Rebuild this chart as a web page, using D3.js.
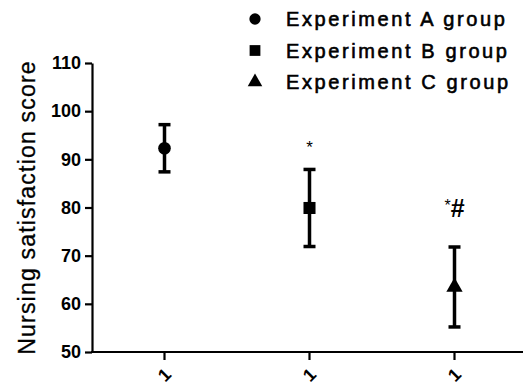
<!DOCTYPE html>
<html>
<head>
<meta charset="utf-8">
<script src="https://cdn.jsdelivr.net/npm/d3@7"></script>
<style>
  body { margin: 0; background: #fff; }
  svg text { font-family: "Liberation Sans", Arial, sans-serif; fill: #000; }
</style>
</head>
<body>
<div id="chart"></div>
<script>
// groups and values
let groups = ['Experiment A group', 'Experiment B group', 'Experiment C group']
let tickLabels = ['1', '1', '1']
let means = [92.3, 79.9, 63.5]
let errors = [4.9, 8.0, 8.3]
let marks = ['', '*', '*#']
let yTicks = [50, 60, 70, 80, 90, 100, 110]

let width = 523, height = 385
let margin = {top: 63, right: -4, bottom: 33, left: 92}

let svg = d3.select('#chart')
  .append('svg')
    .attr('width', width)
    .attr('height', height)

let x = d3.scaleBand()
  .domain(groups)
  .range([margin.left, width - margin.right])

let y = d3.scaleLinear()
  .domain([50, 110])
  .range([height - margin.bottom, margin.top])

let shapes = [d3.symbolCircle, d3.symbolSquare, d3.symbolTriangle]
let sizes = [125, 145, 115]

// y axis
let yAxis = svg.append('g')
  .attr('transform', 'translate(' + margin.left + ',0)')
  .call(d3.axisLeft(y).tickValues(yTicks).tickSize(7).tickPadding(4).tickSizeOuter(0))
yAxis.selectAll('path, line').attr('stroke', '#000').attr('stroke-width', 2.2)
yAxis.selectAll('text')
  .attr('font-size', 18)
  .attr('font-weight', 'bold')
  .attr('font-family', '"Liberation Sans", Arial, sans-serif')
  .attr('fill', '#000')

// x axis
let xAxis = svg.append('g')
  .attr('transform', 'translate(0,' + y(50) + ')')
  .call(d3.axisBottom(x).tickSize(8).tickSizeOuter(0).tickFormat(function(d, i){ return tickLabels[i] }))
xAxis.select('path').attr('stroke', '#000').attr('stroke-width', 2.2).attr('d', 'M' + (margin.left - 1) + ',0H' + width)
xAxis.selectAll('line').attr('stroke', '#000').attr('stroke-width', 2.2)
xAxis.selectAll('text')
  .attr('font-size', 18)
  .attr('font-weight', 'bold')
  .attr('font-family', '"Liberation Sans", Arial, sans-serif')
  .attr('fill', '#000')
  .attr('y', 0)
  .attr('dy', 0)
  .attr('text-anchor', 'middle')
  .attr('dominant-baseline', 'central')
  .attr('transform', 'translate(0,23) rotate(-45)')

// y axis title
svg.append('text')
  .attr('transform', 'translate(27,' + (y(50) + y(110)) / 2 + ') rotate(-90)')
  .attr('text-anchor', 'middle')
  .attr('dominant-baseline', 'central')
  .attr('font-size', 23)
  .attr('letter-spacing', 1.2)
  .attr('stroke', '#000')
  .attr('stroke-width', 0.3)
  .text('Nursing satisfaction score')

// error bars
let cx = function(d){ return x(d) + x.bandwidth() / 2 }
let bars = svg.append('g')
groups.forEach(function(g, i){
  let top = y(means[i] + errors[i]), bot = y(means[i] - errors[i])
  bars.append('line')
    .attr('x1', cx(g)).attr('x2', cx(g))
    .attr('y1', top).attr('y2', bot)
    .attr('stroke', '#000').attr('stroke-width', 3.5)
  ;[top, bot].forEach(function(v){
    bars.append('line')
      .attr('x1', cx(g) - 6).attr('x2', cx(g) + 6)
      .attr('y1', v).attr('y2', v)
      .attr('stroke', '#000').attr('stroke-width', 3.5)
  })
  bars.append('path')
    .attr('d', d3.symbol().type(shapes[i]).size(sizes[i])())
    .attr('transform', 'translate(' + cx(g) + ',' + y(means[i]) + ')')
    .attr('fill', '#000')
})

// significance marks
svg.append('text')
  .attr('x', cx(groups[1]))
  .attr('y', y(means[1] + errors[1]) - 16)
  .attr('text-anchor', 'middle')
  .attr('font-size', 17)
  .text(marks[1])

let cMark = svg.append('text')
  .attr('x', cx(groups[2]))
  .attr('y', y(means[2] + errors[2]) - 30)
  .attr('text-anchor', 'middle')
cMark.append('tspan').attr('font-size', 16).attr('dy', -6).text(marks[2][0])
cMark.append('tspan').attr('font-size', 25).attr('font-weight', 'bold').attr('dy', 6).text(marks[2][1])

// legend
let legend = svg.append('g')
groups.forEach(function(g, i){
  let ly = 19 + i * 31.5
  legend.append('path')
    .attr('d', d3.symbol().type(shapes[i]).size(sizes[i] * 0.8)())
    .attr('transform', 'translate(255,' + ly + ')')
    .attr('fill', '#000')
  legend.append('text')
    .attr('x', 286)
    .attr('y', ly)
    .attr('dominant-baseline', 'central')
    .attr('font-size', 20)
    .attr('letter-spacing', 2.6)
    .attr('stroke', '#000')
    .attr('stroke-width', 0.6)
    .text(g)
})
</script>
</body>
</html>
